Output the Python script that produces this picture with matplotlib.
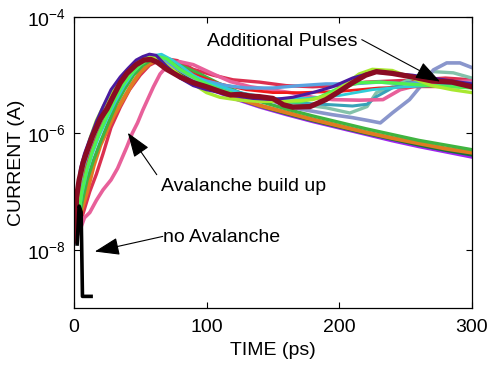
import matplotlib
matplotlib.use("Agg")
import matplotlib.pyplot as plt
import numpy as np

plt.rcParams["font.family"] = ["Liberation Sans", "DejaVu Sans"]
plt.rcParams["mathtext.default"] = "regular"

# time (ps) and log10(current / A) for each trace
t_violet = [0, 2, 4, 7, 11, 15, 20, 25, 31, 37, 44, 51, 58, 65, 72, 80, 90, 100,
            120, 140, 160, 180, 200, 220, 240, 260, 280, 300]
L_violet = [-7.85, -7.4, -6.9, -6.55, -6.25, -6.0, -5.75, -5.5, -5.25, -5.02, -4.85,
            -4.72, -4.67, -4.7, -4.82, -4.97, -5.1, -5.22, -5.4, -5.55, -5.68, -5.8,
            -5.91, -6.02, -6.13, -6.23, -6.32, -6.41]

t_dkgreen = t_violet
L_dkgreen = [-7.85, -7.45, -6.95, -6.6, -6.3, -6.05, -5.8, -5.55, -5.3, -5.07, -4.9,
             -4.76, -4.7, -4.71, -4.8, -4.95, -5.08, -5.2, -5.38, -5.53, -5.66, -5.78,
             -5.89, -6.0, -6.1, -6.2, -6.29, -6.37]

t_orange = [0, 3, 6, 10, 15, 20, 25, 30, 37, 44, 50, 57, 63, 69, 76, 85, 100,
            120, 140, 160, 180, 200, 220, 240, 260, 280, 300]
L_orange = [-7.85, -7.6, -7.3, -7.0, -6.55, -6.2, -5.95, -5.7, -5.42, -5.15, -4.95,
            -4.8, -4.74, -4.73, -4.8, -4.95, -5.15, -5.37, -5.52, -5.64, -5.76,
            -5.87, -5.98, -6.08, -6.17, -6.26, -6.33]

t_green = [0, 3, 6, 10, 15, 20, 26, 32, 38, 45, 52, 59, 66, 75, 85, 95, 110, 125, 140,
           160, 180, 200, 220, 240, 260, 280, 300]
L_green = [-7.85, -7.6, -7.2, -6.8, -6.45, -6.15, -5.82, -5.5, -5.25, -5.0, -4.83, -4.73,
           -4.7, -4.78, -4.88, -4.98, -5.15, -5.3, -5.45, -5.58, -5.7, -5.81, -5.92,
           -6.02, -6.12, -6.2, -6.28]

t_seagreen = [0, 2, 5, 9, 13, 18, 24, 30, 37, 44, 51, 58, 65, 75, 90, 110, 130, 150, 170,
              190, 208, 221, 228, 240, 261, 271, 286, 300]
L_seagreen = [-7.85, -7.4, -6.95, -6.55, -6.25, -5.95, -5.65, -5.38, -5.1, -4.9, -4.76,
              -4.68, -4.68, -4.82, -5.02, -5.22, -5.36, -5.45, -5.5, -5.56, -5.65, -5.54,
              -5.3, -5.2, -5.0, -4.94, -4.96, -5.05]

t_slate = [0, 2, 5, 9, 13, 18, 24, 30, 37, 44, 51, 58, 65, 75, 90, 110, 130, 150, 170,
           195, 210, 222, 231, 240, 253, 261, 271, 281, 291, 300]
L_slate = [-7.85, -7.35, -6.9, -6.5, -6.2, -5.9, -5.6, -5.33, -5.07, -4.88, -4.74, -4.67,
           -4.68, -4.85, -5.05, -5.22, -5.35, -5.45, -5.58, -5.68, -5.73, -5.78, -5.82,
           -5.65, -5.42, -5.2, -4.91, -4.79, -4.79, -4.87]

t_teal = [0, 2, 5, 9, 13, 18, 24, 30, 37, 44, 51, 58, 65, 75, 90, 110, 130, 150, 170,
          195, 210, 221, 228, 240, 251, 270, 300]
L_teal = [-7.85, -7.4, -6.95, -6.55, -6.25, -5.95, -5.67, -5.4, -5.12, -4.92, -4.77,
          -4.69, -4.67, -4.8, -5.0, -5.2, -5.33, -5.42, -5.48, -5.51, -5.53, -5.5,
          -5.37, -5.22, -5.13, -5.15, -5.15]

t_pink = [0, 4, 8, 12, 17, 22, 28, 33, 40, 44, 48, 52, 55, 60, 65, 72, 80, 90, 105, 118,
          133, 148, 163, 180, 195, 215, 233, 246, 260, 280, 300]
L_pink = [-7.85, -7.7, -7.45, -7.36, -7.15, -6.97, -6.8, -6.6, -6.23, -6.0, -5.82, -5.6,
          -5.45, -5.2, -4.98, -4.8, -4.77, -4.82, -4.98, -5.11, -5.2, -5.25, -5.3, -5.38,
          -5.42, -5.43, -5.42, -5.25, -5.17, -5.12, -5.1]

t_crimson = [0, 4, 8, 12, 17, 22, 28, 35, 42, 50, 57, 64, 70, 78, 90, 105, 120, 140,
             160, 180, 200, 220, 240, 260, 280, 300]
L_crimson = [-7.85, -7.6, -7.3, -7.0, -6.7, -6.35, -5.9, -5.55, -5.25, -5.0, -4.83,
             -4.75, -4.72, -4.75, -4.9, -5.0, -5.08, -5.12, -5.18, -5.2, -5.18, -5.12,
             -5.1, -5.08, -5.05, -5.08]

t_red = [0, 2, 5, 9, 13, 18, 24, 30, 37, 44, 51, 58, 65, 75, 90, 110, 130, 150, 170, 200,
         230, 260, 300]
L_red = [-7.85, -7.45, -7.0, -6.6, -6.3, -6.0, -5.7, -5.42, -5.14, -4.93, -4.78, -4.7,
         -4.69, -4.8, -4.98, -5.15, -5.25, -5.3, -5.3, -5.28, -5.22, -5.2, -5.2]

t_blue = [0, 2, 4, 7, 11, 15, 20, 25, 31, 38, 45, 52, 58, 64, 72, 85, 100, 115, 130, 150,
          170, 190, 210, 230, 250, 270, 285, 300]
L_blue = [-7.85, -7.5, -7.0, -6.6, -6.3, -6.05, -5.8, -5.55, -5.28, -5.03, -4.85, -4.72,
          -4.66, -4.67, -4.8, -4.98, -5.1, -5.18, -5.22, -5.22, -5.18, -5.15, -5.15,
          -5.12, -5.15, -5.1, -5.12, -5.14]

t_cyan = [0, 3, 6, 10, 14, 19, 25, 31, 38, 45, 52, 59, 66, 75, 90, 100, 125, 150, 175,
          200, 225, 250, 275, 300]
L_cyan = [-7.85, -7.5, -7.05, -6.65, -6.35, -6.05, -5.75, -5.47, -5.18, -4.95, -4.78,
          -4.67, -4.64, -4.75, -5.0, -5.12, -5.3, -5.4, -5.4, -5.35, -5.25, -5.2, -5.18,
          -5.2]

t_ltgreen = [0, 3, 6, 10, 14, 19, 24, 30, 36, 43, 50, 57, 63, 70, 80, 95, 110, 125, 140,
             155, 170, 185, 200, 215, 230, 250, 270, 285, 300]
L_ltgreen = [-7.85, -7.5, -7.0, -6.6, -6.3, -6.0, -5.75, -5.45, -5.2, -4.98, -4.82, -4.72,
             -4.68, -4.72, -4.9, -5.1, -5.25, -5.35, -5.42, -5.45, -5.46, -5.38, -5.22,
             -5.13, -5.12, -5.15, -5.18, -5.2, -5.22]

t_lime = [0, 2, 4, 8, 12, 17, 22, 28, 35, 42, 50, 57, 63, 70, 80, 90, 100, 110, 125, 140,
          160, 180, 195, 205, 215, 225, 240, 255, 270, 285, 300]
L_lime = [-7.85, -7.3, -6.9, -6.45, -6.1, -5.78, -5.55, -5.3, -5.06, -4.88, -4.73, -4.67,
          -4.7, -4.83, -5.0, -5.15, -5.3, -5.38, -5.43, -5.45, -5.45, -5.42, -5.32,
          -5.15, -4.98, -4.9, -4.92, -5.05, -5.18, -5.25, -5.3]

t_indigo = [0, 1.5, 3, 5, 8, 12, 17, 22, 28, 35, 41, 47, 52, 57, 62, 70, 80, 90, 100, 110,
            120, 135, 150, 165, 180, 195, 210, 225, 240, 255, 270, 285, 300]
L_indigo = [-7.9, -7.6, -7.0, -6.6, -6.35, -6.1, -5.8, -5.54, -5.25, -5.03, -4.88, -4.74,
            -4.68, -4.64, -4.66, -4.85, -5.05, -5.18, -5.25, -5.3, -5.35, -5.4, -5.42,
            -5.38, -5.3, -5.2, -5.05, -4.95, -4.97, -5.0, -5.05, -5.1, -5.15]

t_darkred = [0, 1, 2, 4, 7, 10, 14, 20, 25, 30, 35, 40, 47, 53, 58, 63, 70, 80, 90, 100,
             110, 118, 125, 133, 140, 150, 158, 165, 178, 190, 200, 210, 220, 228, 240,
             255, 270, 285, 300]
L_darkred = [-7.85, -7.85, -7.1, -6.8, -6.5, -6.3, -6.05, -5.75, -5.58, -5.35, -5.13,
             -4.97, -4.82, -4.74, -4.73, -4.78, -4.9, -5.03, -5.13, -5.2, -5.28, -5.34,
             -5.33, -5.36, -5.37, -5.4, -5.51, -5.55, -5.54, -5.42, -5.28, -5.13, -5.0,
             -4.94, -4.97, -5.03, -5.1, -5.12, -5.2]

t_black = [2.5, 4, 5.5, 6.5, 13]
L_black = [-7.9, -7.25, -7.35, -8.8, -8.8]

traces = [
    (t_violet, L_violet, "#a024f0", 2.2),
    (t_dkgreen, L_dkgreen, "#17703a", 2.4),
    (t_crimson, L_crimson, "#dc3050", 2.4),
    (t_orange, L_orange, "#e07b22", 3.0),
    (t_green, L_green, "#40b440", 2.4),
    (t_seagreen, L_seagreen, "#84c2aa", 2.4),
    (t_slate, L_slate, "#8a96cc", 2.6),
    (t_teal, L_teal, "#38a2b8", 2.2),
    (t_pink, L_pink, "#e8609a", 2.6),
    (t_red, L_red, "#f01a1a", 2.0),
    (t_blue, L_blue, "#5aa2e0", 2.4),
    (t_cyan, L_cyan, "#30ccd8", 2.0),
    (t_ltgreen, L_ltgreen, "#50f050", 2.4),
    (t_lime, L_lime, "#a8e830", 2.4),
    (t_indigo, L_indigo, "#4a1aa0", 2.2),
    (t_darkred, L_darkred, "#8a0c22", 3.8),
]

fig = plt.figure(figsize=(4.89, 3.68), dpi=100)
ax = fig.add_axes([0.151, 0.163, 0.814, 0.791])

for t, L, c, lw in traces:
    ax.plot(t, 10.0 ** np.array(L), color=c, lw=lw, solid_joinstyle="round")
ax.plot(t_black, 10.0 ** np.array(L_black), color="black", lw=2.6)

ax.set_yscale("log")
ax.set_xlim(0, 300)
ax.set_ylim(1e-9, 1e-4)
ax.set_xticks([0, 100, 200, 300])
ax.set_yticks([1e-8, 1e-6, 1e-4])
ax.yaxis.set_minor_locator(matplotlib.ticker.NullLocator())
ax.tick_params(direction="in", top=True, right=True, length=4, width=0.8,
               labelsize=14)
ax.tick_params(axis="x", pad=8)
ax.tick_params(axis="y", pad=6)
for s in ax.spines.values():
    s.set_linewidth(0.9)
ax.set_xlabel("TIME (ps)", fontsize=14)
ax.set_ylabel("CURRENT (A)", fontsize=14)
ax.yaxis.set_label_coords(-0.123, 0.5)
ax.xaxis.set_label_coords(0.5, -0.117)

arrow = dict(arrowstyle="-|>,head_length=1.4,head_width=0.5", color="black",
             lw=0.8, mutation_scale=11, shrinkA=0, shrinkB=0)
ax.annotate("", xy=(276, 10 ** -5.11), xytext=(217, 10 ** -4.39), arrowprops=arrow)
ax.text(100, 10 ** -4.43, "Additional Pulses", fontsize=14, ha="left", va="center")
ax.annotate("", xy=(40.7, 10 ** -5.99), xytext=(62.5, 10 ** -6.71), arrowprops=arrow)
ax.text(66, 10 ** -6.92, "Avalanche build up", fontsize=14, ha="left", va="center")
ax.annotate("", xy=(15.8, 10 ** -8.03), xytext=(67, 10 ** -7.77), arrowprops=arrow)
ax.text(67, 10 ** -7.79, "no Avalanche", fontsize=14, ha="left", va="center")

fig.savefig("out.png", dpi=100)
